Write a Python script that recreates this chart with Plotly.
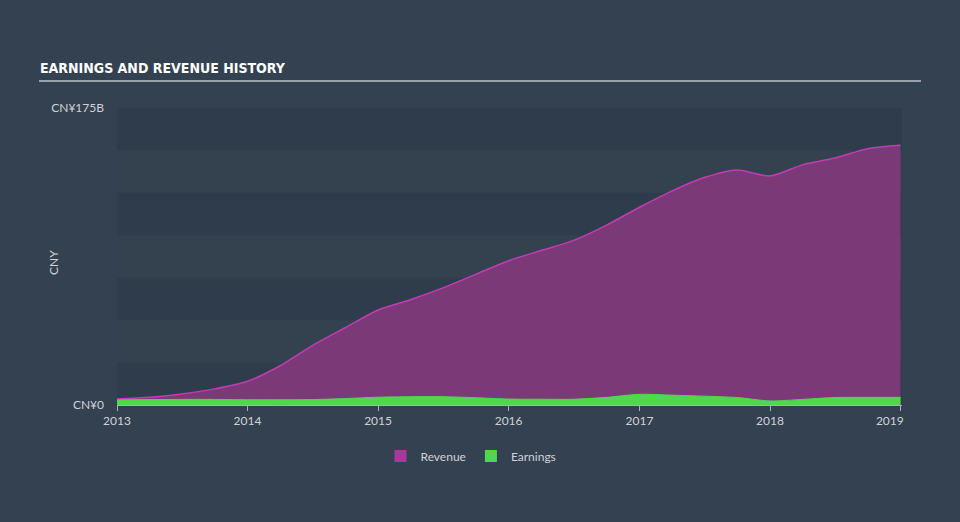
import plotly.graph_objects as go

dates = ["2013-01-01", "2013-04-01", "2013-07-01", "2013-10-01",
         "2014-01-01", "2014-04-01", "2014-07-01", "2014-10-01",
         "2015-01-01", "2015-04-01", "2015-07-01", "2015-10-01",
         "2016-01-01", "2016-04-01", "2016-07-01", "2016-10-01",
         "2017-01-01", "2017-04-01", "2017-07-01", "2017-10-01",
         "2018-01-01", "2018-04-01", "2018-07-01", "2018-10-01",
         "2019-01-01"]
revenue = [3.5, 4.5, 6.5, 9.5,
           14, 23, 35, 45.5,
           56, 62, 69, 77,
           85, 91, 97, 106,
           116.5, 126, 134, 138.5,
           135, 141.5, 145.5, 151, 153]
earnings = [3.0, 3.2, 3.3, 3.3,
            3.1, 3.1, 3.2, 3.8,
            4.6, 4.9, 4.9, 4.3,
            3.5, 3.4, 3.4, 4.5,
            6.3, 5.8, 5.2, 4.4,
            2.4, 3.3, 4.4, 4.5, 4.5]

y_ticks = [0, 175]
y_ticktext = ["CN¥0", "CN¥175B"]
x_ticks = ["2013-01-01", "2014-01-01", "2015-01-01", "2016-01-01",
           "2017-01-01", "2018-01-01", "2019-01-01"]
x_ticktext = ["2013", "2014", "2015", "2016", "2017", "2018",
              "2019" + "\u00a0" * 7]

bg = "#344150"
txt = "#cfd3d8"
L, R, T, B = 117, 58, 108, 117
PW, PH = 960 - L - R, 522 - T - B


def px_x(x):
    return (x - L) / PW


def px_y(y):
    return (522 - B - y) / PH


fig = go.Figure()
fig.add_trace(go.Scatter(
    x=dates, y=revenue, name="Revenue", mode="lines", showlegend=False,
    line=dict(color="#c13db3", width=1.5, shape="spline", smoothing=0.8),
    fill="tozeroy", fillcolor="#7b3977"))
fig.add_trace(go.Scatter(
    x=dates, y=earnings, name="Earnings", mode="lines", showlegend=False,
    line=dict(color="#52d651", width=1, shape="spline", smoothing=0.8),
    fill="tozeroy", fillcolor="#52d651"))
# legend entries (square swatches)
fig.add_trace(go.Bar(x=[None], y=[None], name="Revenue", marker=dict(color="#a8389e", line=dict(width=0))))
fig.add_trace(go.Bar(x=[None], y=[None], name="Earnings", marker=dict(color="#52d651", line=dict(width=0))))

# alternating background bands
shapes = []
for i in range(7):
    shapes.append(dict(type="rect", xref="paper", yref="y", x0=0, x1=1,
                       y0=i * 25, y1=(i + 1) * 25, layer="below", line=dict(width=0),
                       fillcolor="#2f3c4b" if i % 2 == 0 else "#344250"))
# title underline
shapes.append(dict(type="line", xref="paper", yref="paper",
                   x0=px_x(39), x1=px_x(921), y0=px_y(81), y1=px_y(81),
                   line=dict(color="#9aa1aa", width=2)))

fig.update_layout(
    width=960, height=522,
    paper_bgcolor=bg, plot_bgcolor=bg,
    margin=dict(l=L, r=R, t=T, b=B),
    font=dict(family="Lato, Open Sans, sans-serif", color=txt, size=12),
    shapes=shapes,
    showlegend=True,
    legend=dict(orientation="h", x=px_x(471), xanchor="center", y=px_y(456), yanchor="middle",
                font=dict(size=12, color=txt), bgcolor="rgba(0,0,0,0)",
                traceorder="normal"),
    annotations=[
        dict(text="<b>EARNINGS AND REVENUE HISTORY</b>", xref="paper", yref="paper",
             x=px_x(38), y=px_y(68), xanchor="left", yanchor="middle", showarrow=False,
             font=dict(family="DejaVu Sans Condensed, DejaVu Sans", size=14, color="#ffffff")),
        dict(text="CNY", xref="paper", yref="paper", x=px_x(53), y=px_y(263),
             xanchor="center", yanchor="middle", textangle=-90, showarrow=False,
             font=dict(size=12, color=txt)),
    ],
    xaxis=dict(type="date", range=["2013-01-01", "2019-01-05"],
               tickvals=x_ticks, ticktext=x_ticktext,
               showgrid=False, zeroline=False,
               showline=True, linecolor="#aab0b8", linewidth=1,
               ticks="outside", ticklen=5, tickcolor="#aab0b8",
               tickfont=dict(size=12, color=txt)),
    yaxis=dict(range=[0, 175], tickvals=y_ticks, ticktext=y_ticktext,
               showgrid=False, zeroline=False, showline=False,
               ticks="", ticklabelstandoff=12, tickfont=dict(size=12, color=txt)),
)

fig.write_html("out.html")
